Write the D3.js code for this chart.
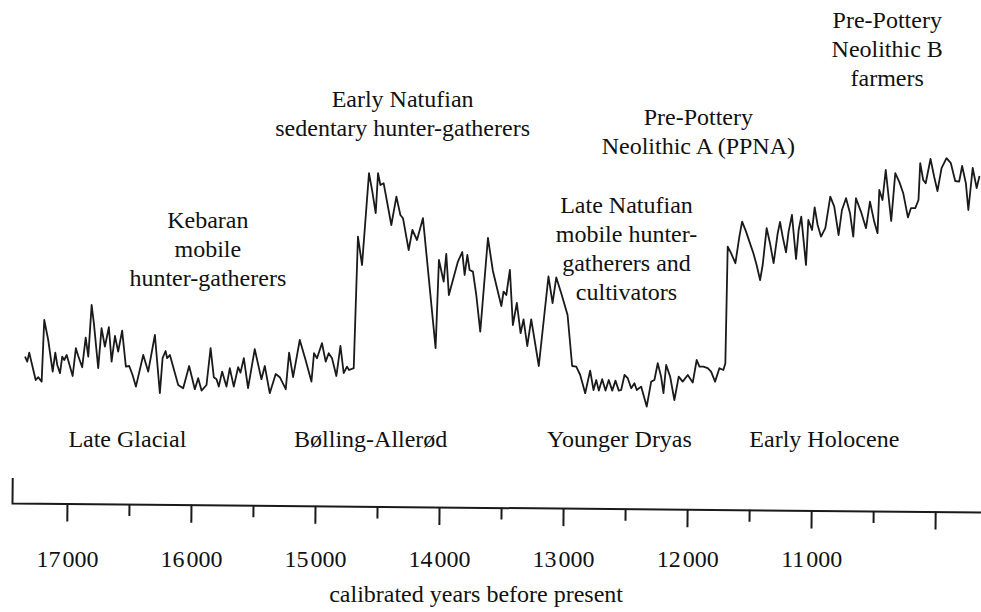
<!DOCTYPE html>
<html>
<head>
<meta charset="utf-8">
<script src="https://cdn.jsdelivr.net/npm/d3@7"></script>
<style>
  html, body { margin: 0; padding: 0; background: #fff; }
  svg { display: block; font-family: "Liberation Serif", "Times New Roman", serif; }
</style>
</head>
<body>
<svg id="chart"></svg>
<script>
// --------------------
//  data
// --------------------

// calibrated years BP of each point of the record
const years = [17338,17320,17304,17284,17252,17231,17204,17183,17151,17115,17094,17078,17056,17038,17022,17002,16954,16928,16909,16877,16849,16828,16801,16783,16748,16721,16694,16662,16640,16613,16587,16555,16525,16498,16471,16444,16385,16345,16291,16251,16229,16205,16192,16170,16103,
  16063,16015,15969,15942,15915,15875,15842,15816,15794,15776,15749,15714,15687,15655,15620,15601,15574,15540,15486,15432,15405,15365,15317,15284,15236,15209,15177,15123,15075,15029,15008,14984,14944,14914,14890,14863,14828,14795,14769,14742,14726,14688,
  14654,14621,14565,14538,14511,14492,14473,14447,14385,14344,14312,14291,14245,14215,14178,14130,
  14028,14001,13963,13942,13921,13848,13813,13794,13772,13754,13727,13700,13668,13606,13566,13498,13480,13458,13429,13405,13373,13343,13319,13289,13257,13196,
  13118,13085,13055,13015,12964,12927,12894,12862,12822,12782,12755,12733,12712,12685,12658,12632,12604,12578,12551,12532,12505,12479,12451,12425,12406,12371,12326,12290,12264,12237,12210,12191,12169,12137,12103,12068,12036,11995,11955,11923,11901,11869,11834,11807,11775,11740,11708,11692,
  11673,11646,11611,11579,11557,11525,11498,11466,11440,11412,11391,11359,11332,11303,11270,11251,11230,11203,11182,11155,11122,11101,11080,11042,11023,10993,10972,10948,10921,10886,10846,10814,10779,10752,10719,10687,10661,10639,10599,10558,10526,10492,10465,10451,10425,10399,10355,10322,10288,10258,10220,10196,10161,10135,10121,10097,10077,10038,10008,9982,9949,9909,9874,9839,9807,9783,9753,9733,9698,9666,9643];

// climate proxy (arbitrary units, higher = warmer / wetter)
const values = [31.7,29.2,33.7,28.4,20,21.4,19.2,50,40,24.2,33.7,27.5,23.4,31.7,30,32.5,22,35.9,32,26.4,41.2,31.7,57.5,48.4,25.9,45.9,36.7,46.4,29.2,42,34.2,44.7,26.7,27,22.5,16.7,32.5,24.2,42.5,13.4,30.9,34.5,30.9,32.5,17.5,
  15.9,27,15.4,20.9,14.7,17.5,35.9,21.4,20.4,16.7,24.2,16.7,25.9,16.7,26.4,23.7,30.9,15.9,35.4,20.4,27,13.4,23,21.4,15.4,33.7,21.4,40,29.7,19.2,33.4,30.9,38.4,29.2,33.4,30.9,22,37,23.5,26.7,25,25.9,
  91.7,77.5,123.4,114.2,103.4,123.4,117.5,118.4,97.5,111.7,102.5,100.9,85,95,90,100.9,
  35.9,80,69.2,83,62.5,79.2,84,72.5,82.5,75,74.2,62.5,44.2,91,74.5,57,64.2,62.5,75,47.5,58.5,43.4,50.3,37,50.3,27,
  71.8,58.4,71.3,63.4,52.5,27,26.7,22.5,13.4,24.7,15,20,14.7,20.4,14.7,20,14.7,19.7,14.7,15,22.5,20.9,15.9,18.4,15,16.7,6.7,19.2,20,28.4,21.7,13.4,27.5,21.7,10,21.7,19.2,22.5,18.7,30,26.7,26.7,25.9,24.2,19.2,25.9,25,28.4,
  86.7,83.4,78.4,91.7,99.2,94.2,89.2,83.4,77.5,70,77.5,95.9,88.4,78.4,93.4,99,91.7,83.8,94.2,102.5,80.5,95,101.7,77.5,100,95,106.3,97.5,91.7,95.9,111.7,106.7,92.5,105,110.9,103.4,91.7,110.9,104.2,95.9,109.2,99.2,93.4,115,110,125,99.5,123.4,118.8,113.4,101.3,105.9,105.9,110,128.4,120,118.4,130.5,121.5,114.5,125.9,130.9,128.4,119.5,119.2,127,118.4,105,126,116,122];

// axis ticks
const tickYears = [17000,16500,16000,15500,15000,14500,14000,13500,13000,12500,12000,11500,11000,10500,10000];
const labelYears = [17000,16000,15000,14000,13000,12000,11000];

// climate periods (bottom) and cultures (top)
const periodNames = ["Late Glacial", "Bølling-Allerød", "Younger Dryas", "Early Holocene"];
const periodYears = [16513, 14551, 12546, 10894];

const cultureLines = [
  ["Kebaran", "mobile", "hunter-gatherers"],
  ["Early Natufian", "sedentary hunter-gatherers"],
  ["Late Natufian", "mobile hunter-", "gatherers and", "cultivators"],
  ["Pre-Pottery", "Neolithic A (PPNA)"],
  ["Pre-Pottery", "Neolithic B", "farmers"]
];
const cultureYears = [15864, 14294, 12489, 11910, 10387];

// --------------------
//  setup
// --------------------
const width = 981;
const height = 612;
const axisY = 503;
const fontSize = 24;
const lineGap = 29;
const cultureTop = [228, 107, 213, 125, 28]; // baseline of first line

const svg = d3.select("#chart")
  .attr("width", width)
  .attr("height", height)
  .attr("viewBox", [0, 0, width, height]);

const x = d3.scaleLinear()
  .domain([17443, 9631])
  .range([12, 981]);

const y = d3.scaleLinear()
  .domain([0, 130])
  .range([420, 160]);

const data = years.map((yr, i) => ({ year: yr, value: values[i] }));

// --------------------
//  record line
// --------------------
const line = d3.line()
  .x(d => x(d.year))
  .y(d => y(d.value));

svg.append("path")
  .datum(data)
  .attr("fill", "none")
  .attr("stroke", "#1a1a1a")
  .attr("stroke-width", 1.8)
  .attr("stroke-linejoin", "round")
  .attr("d", line);

// --------------------
//  axis (the scanned axis is a little tilted)
// --------------------
const tilt = Math.atan2(9, 969) * 180 / Math.PI;
const [x0, x1] = x.range();

const axisLines = svg.append("g")
  .attr("transform", `translate(0,${axisY}) rotate(${tilt},${x0},0)`)
  .call(d3.axisBottom(x)
    .tickValues(tickYears)
    .tickSize(18)
    .tickSizeOuter(0)
    .tickFormat(""));

// only a short stub on the left end
axisLines.select(".domain")
  .attr("d", `M${x0 + 0.5},-25V0.5H${x1}`)
  .attr("stroke", "#1a1a1a")
  .attr("stroke-width", 2);

axisLines.selectAll(".tick line")
  .attr("stroke", "#1a1a1a")
  .attr("stroke-width", 2)
  .attr("y2", d => d % 1000 === 0 ? 18 : 12);

const axisLabels = svg.append("g")
  .attr("transform", `translate(0,${axisY})`)
  .call(d3.axisBottom(x)
    .tickValues(labelYears)
    .tickSize(0)
    .tickPadding(47)
    .tickFormat(d => d3.format(",")(d).replace(",", "\u200A")));

axisLabels.select(".domain").remove();
axisLabels.selectAll("text")
  .attr("font-family", "Liberation Serif, Times New Roman, serif")
  .attr("font-size", fontSize)
  .attr("fill", "#111");

svg.append("text")
  .attr("x", (x(17000) + x(10000)) / 2 - 25)
  .attr("y", 602)
  .attr("text-anchor", "middle")
  .attr("font-size", fontSize)
  .attr("fill", "#111")
  .text("calibrated years before present");

// --------------------
//  labels
// --------------------
svg.selectAll(".period")
  .data(periodNames)
  .join("text")
  .attr("class", "period")
  .attr("x", (d, i) => x(periodYears[i]))
  .attr("y", 447)
  .attr("text-anchor", "middle")
  .attr("font-size", fontSize)
  .attr("fill", "#111")
  .text(d => d);

cultureLines.forEach((lines, i) => {
  svg.append("text")
    .attr("text-anchor", "middle")
    .attr("font-size", fontSize)
    .attr("fill", "#111")
    .selectAll("tspan")
    .data(lines)
    .join("tspan")
    .attr("x", x(cultureYears[i]))
    .attr("y", (d, j) => cultureTop[i] + j * lineGap)
    .text(d => d);
});
</script>
</body>
</html>
